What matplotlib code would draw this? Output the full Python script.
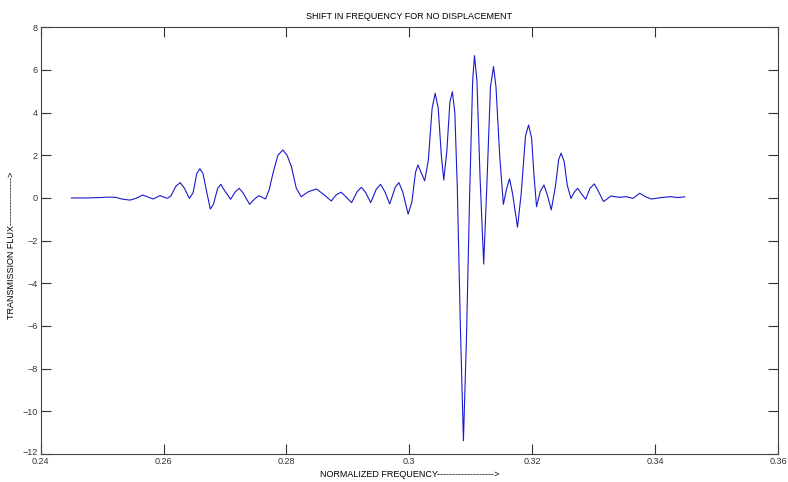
import matplotlib
matplotlib.use("Agg")
import matplotlib.pyplot as plt
import matplotlib.transforms as mtransforms

# === DATA (extrema plus shoulder points) ===
freq = [0.2450, 0.2475, 0.2497, 0.2510, 0.2522, 0.2532, 0.2545, 0.2555,
        0.2566, 0.2583, 0.2594, 0.2606, 0.2612, 0.2620, 0.2627, 0.2634,
        0.2642, 0.2648, 0.2654, 0.2659, 0.2664, 0.2670, 0.2676, 0.2681,
        0.2688, 0.2693, 0.2698, 0.2709, 0.2717, 0.2723, 0.2729, 0.2740,
        0.2748, 0.2755, 0.2766, 0.2772, 0.2778, 0.2786, 0.2794, 0.2801,
        0.2808, 0.2816, 0.2824, 0.2836, 0.2849, 0.2861, 0.2873, 0.2881,
        0.2889, 0.2897, 0.2906, 0.2915, 0.2922, 0.2929, 0.2937, 0.2946,
        0.2953, 0.2960, 0.2968, 0.2977, 0.2983, 0.2989, 0.2998, 0.3004,
        0.3010, 0.3014, 0.3019, 0.3025, 0.3031, 0.3037, 0.3042, 0.3047,
        0.3052, 0.3056, 0.3061, 0.3066, 0.3070, 0.3074, 0.3078, 0.3083,
        0.3088, 0.3093, 0.3098, 0.3103, 0.3106, 0.3110, 0.3115, 0.3121,
        0.3126, 0.3132, 0.3137, 0.3141, 0.3147, 0.3153, 0.3158, 0.3163,
        0.3168, 0.3176, 0.3182, 0.3189, 0.3194, 0.3199, 0.3203, 0.3207,
        0.3213, 0.3219, 0.3225, 0.3231, 0.3238, 0.3243, 0.3247, 0.3252,
        0.3257, 0.3263, 0.3269, 0.3274, 0.3280, 0.3287, 0.3294, 0.3301,
        0.3307, 0.3316, 0.3328, 0.3342, 0.3353, 0.3364, 0.3375, 0.3385,
        0.3394, 0.3410, 0.3425, 0.3437, 0.3448]
flux = [0.00, 0.00, 0.02, 0.04, 0.03, -0.05, -0.10, -0.02,
        0.14, -0.05, 0.11, -0.02, 0.10, 0.55, 0.72, 0.45,
        -0.02, 0.25, 1.15, 1.37, 1.15, 0.30, -0.52, -0.30,
        0.45, 0.64, 0.40, -0.06, 0.30, 0.45, 0.25, -0.30,
        -0.05, 0.11, -0.05, 0.40, 1.16, 2.00, 2.25, 2.00,
        1.47, 0.45, 0.06, 0.30, 0.42, 0.15, -0.14, 0.15,
        0.27, 0.05, -0.22, 0.30, 0.50, 0.25, -0.22, 0.40,
        0.64, 0.30, -0.28, 0.50, 0.72, 0.30, -0.75, -0.20,
        1.20, 1.55, 1.20, 0.80, 1.80, 4.20, 4.91, 4.20,
        2.00, 0.84, 2.20, 4.50, 4.98, 4.00, 0.50, -6.00,
        -11.38, -6.50, 0.00, 5.50, 6.67, 5.50, 1.00, -3.10,
        0.50, 5.20, 6.16, 5.20, 2.00, -0.30, 0.40, 0.90,
        0.20, -1.37, 0.20, 2.90, 3.42, 2.80, 1.00, -0.41,
        0.30, 0.61, 0.10, -0.56, 0.60, 1.80, 2.10, 1.70,
        0.60, -0.02, 0.30, 0.45, 0.20, -0.06, 0.45, 0.66,
        0.35, -0.17, 0.09, 0.03, 0.06, -0.02, 0.22, 0.05,
        -0.05, 0.02, 0.06, 0.02, 0.05]

x_ticks = [0.24, 0.26, 0.28, 0.30, 0.32, 0.34, 0.36]
x_tick_labels = ["0.24", "0.26", "0.28", "0.3", "0.32", "0.34", "0.36"]
y_ticks = [-12, -10, -8, -6, -4, -2, 0, 2, 4, 6, 8]

# === FIGURE ===
plt.rcParams['font.family'] = ['Liberation Sans', 'DejaVu Sans']
fig = plt.figure(figsize=(7.88, 4.82), dpi=100)
ax = fig.add_axes([0.0517, 0.0581, 0.9356, 0.8853])

ax.plot(freq, flux, color='#1a1acc', lw=0.8, solid_joinstyle='round')

ax.set_xlim(0.24, 0.36)
ax.set_ylim(-12, 8)
ax.set_xticks(x_ticks)
ax.set_xticklabels(x_tick_labels)
ax.set_yticks(y_ticks)
ax.tick_params(direction='in', length=7, width=0.8, labelsize=6.5,
               top=True, right=True, pad=2, colors='#333333')
for s in ax.spines.values():
    s.set_linewidth(0.8)
    s.set_color('#444444')

# MATLAB lifts the lowest y label a little off the x labels
lift = mtransforms.ScaledTranslation(0, 2 / 72, fig.dpi_scale_trans)
ylab0 = ax.get_yticklabels()[0]
ylab0.set_transform(ylab0.get_transform() + lift)

ax.set_title("SHIFT IN FREQUENCY FOR NO DISPLACEMENT", fontsize=6.5, pad=6)
ax.set_xlabel("NORMALIZED FREQUENCY------------------->", fontsize=6.5, labelpad=3)
ax.set_ylabel("TRANSMISSION FLUX---------------->", fontsize=6.5)
ax.yaxis.set_label_coords(-0.034, 0.49)

fig.savefig("out.png", dpi=100)
